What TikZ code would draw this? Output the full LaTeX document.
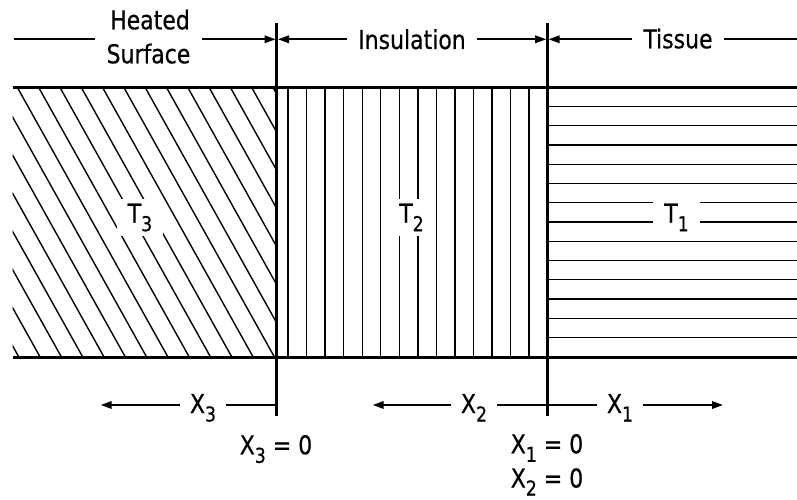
\documentclass[tikz,border=0pt]{standalone}
\usepackage{fontspec}
\setmainfont[FakeStretch=0.94,FakeBold=0.5]{DejaVu Sans Condensed}
\usetikzlibrary{arrows.meta}
\newcommand\sbs[1]{\raisebox{-8.5pt}{\fontsize{20.5}{20.5}\selectfont #1}}
\begin{document}
\begin{tikzpicture}[x=1pt,y=-1pt,
  lbl/.style={font=\fontsize{26}{30}\selectfont, inner sep=0pt, inner xsep=11pt, anchor=base},
  tlbl/.style={lbl, fill=white, inner ysep=5pt},
  border/.style={line width=2.7pt},
  hatch/.style={line width=1.4pt},
  arr/.style={line width=1.8pt, -{Triangle[length=11pt,width=7.5pt]}},
  dim/.style={line width=1.8pt}]
\useasboundingbox (0,0) rectangle (797,500);
% hatching
\begin{scope}
  \clip (12.7,87.3) rectangle (276.7,357.3);
  \foreach \i in {-8,...,12} \draw[hatch] (17.3+21.3*\i,87.3) -- ++(150.8,270);
\end{scope}
\foreach \i in {0,...,13} \draw[hatch] (288+18.55*\i,87.3) -- (288+18.55*\i,357.3);
\foreach \i in {0,...,12} \draw[hatch] (547.3,106.5+19.25*\i) -- (797,106.5+19.25*\i);
% borders and dividers
\draw[border] (12.7,87.3) -- (797,87.3);
\draw[border] (12.7,357.3) -- (797,357.3);
\draw[border] (276.7,22.7) -- (276.7,416);
\draw[border] (547.3,22.7) -- (547.3,416);
% region labels
\node[tlbl] (t3) at (140,222.7) {T\sbs{3}};
\node[tlbl] (t2) at (411.5,222.7) {T\sbs{2}};
\node[tlbl] (t1) at (676.5,222.7) {T\sbs{1}};
% top labels
\coordinate (tl) at (14,39.3);
\coordinate (d1l) at (275.6,39.3);
\coordinate (d1r) at (278,39.3);
\coordinate (d2l) at (546.2,39.3);
\coordinate (d2r) at (548.6,39.3);
\coordinate (rend) at (797,39.3);
\node[lbl] (heat) at (150,29.3) {Heated};
\node[lbl] (surf) at (148.5,63.3) {Surface};
\node[lbl] (ins) at (412,49) {Insulation};
\node[lbl] (tis) at (678,48.3) {Tissue};
\draw[dim] (tl) -- (surf.west |- tl);
\draw[arr] (surf.east |- tl) -- (d1l);
\draw[arr] (ins.west |- tl) -- (d1r);
\draw[arr] (ins.east |- tl) -- (d2l);
\draw[arr] (tis.west |- tl) -- (d2r);
\draw[dim] (tis.east |- tl) -- (rend);
% bottom labels
\coordinate (bl) at (100.7,405);
\coordinate (bm) at (372.7,405);
\coordinate (br) at (723,405);
\coordinate (d1b) at (276.7,405);
\node[lbl, inner xsep=10pt] (x3) at (203,413) {X\sbs{3}};
\node[lbl, inner xsep=10pt] (x2) at (474,413) {X\sbs{2}};
\node[lbl, inner xsep=10pt] (x1) at (620,413) {X\sbs{1}};
\draw[arr] (x3.west |- bl) -- (bl);
\draw[dim] (x3.east |- bl) -- (d1b);
\draw[arr] (x2.west |- bl) -- (bm);
\draw[dim] (x2.east |- bl) -- (x1.west |- bl);
\draw[arr] (x1.east |- bl) -- (br);
\node[lbl] (x3z) at (276,454.3) {X\sbs{3} = 0};
\node[lbl] (x1z) at (547,453.3) {X\sbs{1} = 0};
\node[lbl] (x2z) at (547,487.5) {X\raisebox{-8pt}{\fontsize{20.5}{20.5}\selectfont 2} = 0};
\end{tikzpicture}
\end{document}
